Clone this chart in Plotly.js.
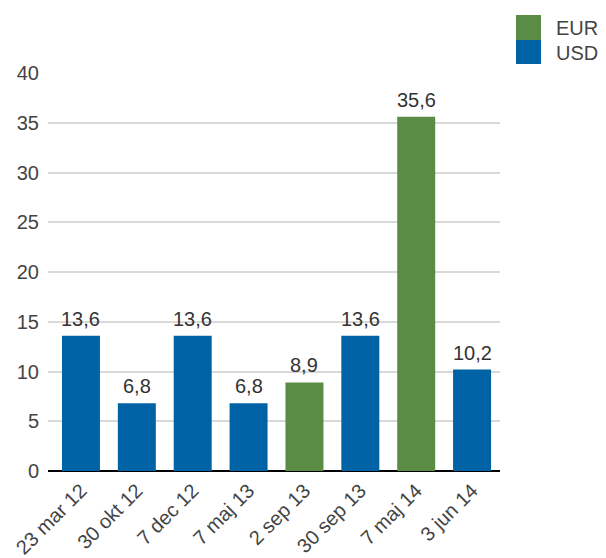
<!DOCTYPE html>
<html><head><meta charset="utf-8">
<script src="https://cdn.plot.ly/plotly-3.0.1.min.js"></script>
<style>body{margin:0;}#chart{width:606px;height:558px;}</style>
</head><body><div id="chart"></div>
<script>
const categories = ["23 mar 12","30 okt 12","7 dec 12","7 maj 13","2 sep 13","30 sep 13","7 maj 14","3 jun 14"];
const seriesNames = ["EUR","USD"];
const eurValues = [null,null,null,null,8.9,null,35.6,null];
const usdValues = [13.6,6.8,13.6,6.8,null,13.6,null,10.2];
const yTicks = [0,5,10,15,20,25,30,35,40];
const colors = ["#5b8c45","#0063a6"];

const font = {family:"Liberation Sans, Arial, sans-serif", size:20, color:"#444"};
function bar(name, vals, color){
  return {type:"bar", name:name, x:categories, y:vals, marker:{color:color}, hoverinfo:"x+y"};
}
const data = [bar(seriesNames[0], eurValues, colors[0]), bar(seriesNames[1], usdValues, colors[1])];

// value labels, built from the data arrays
const valueLabels = [];
[eurValues, usdValues].forEach(vals => vals.forEach((v, i) => {
  if (v === null) return;
  valueLabels.push({x:categories[i], y:v, xref:"x", yref:"y", yanchor:"bottom", yshift:4,
    text:v.toFixed(1).replace(".", ","), showarrow:false,
    font:{family:font.family, size:20, color:"#333"}});
}));

// plot area: x 48..500 (452px), y 73..471 (398px)
const px = x => (x-48)/452, py = y => (471-y)/398;
const layout = {
  width:606, height:558,
  margin:{l:48, r:106, t:73, b:87},
  paper_bgcolor:"#fff", plot_bgcolor:"#fff",
  separators:", ",
  barmode:"overlay", bargap:0.32,
  showlegend:false,
  font:font,
  xaxis:{type:"category", range:[-0.59,7.5], tickangle:-45, showgrid:false, ticks:"", tickfont:font, automargin:false, showline:false, zeroline:false, ticklabelstandoff:3},
  yaxis:{range:[0,40], tickvals:yTicks, ticktext:yTicks.map(String), showgrid:true, gridcolor:"#d9d9d9", gridwidth:2, zeroline:true, zerolinecolor:"#000", zerolinewidth:2, ticks:"", tickfont:font, automargin:false, ticklabelstandoff:8},
  shapes:[
    {type:"rect", xref:"paper", yref:"paper", x0:px(516), x1:px(541), y0:py(40), y1:py(15), fillcolor:colors[0], line:{width:0}},
    {type:"rect", xref:"paper", yref:"paper", x0:px(516), x1:px(541), y0:py(64), y1:py(40), fillcolor:colors[1], line:{width:0}}
  ],
  annotations:valueLabels.concat([
    {xref:"paper", yref:"paper", x:px(554), y:py(28), xanchor:"left", yanchor:"middle", text:seriesNames[0], showarrow:false, font:font},
    {xref:"paper", yref:"paper", x:px(554), y:py(53), xanchor:"left", yanchor:"middle", text:seriesNames[1], showarrow:false, font:font}
  ])
};
Plotly.newPlot("chart", data, layout, {displayModeBar:false, staticPlot:true});
</script></body></html>
